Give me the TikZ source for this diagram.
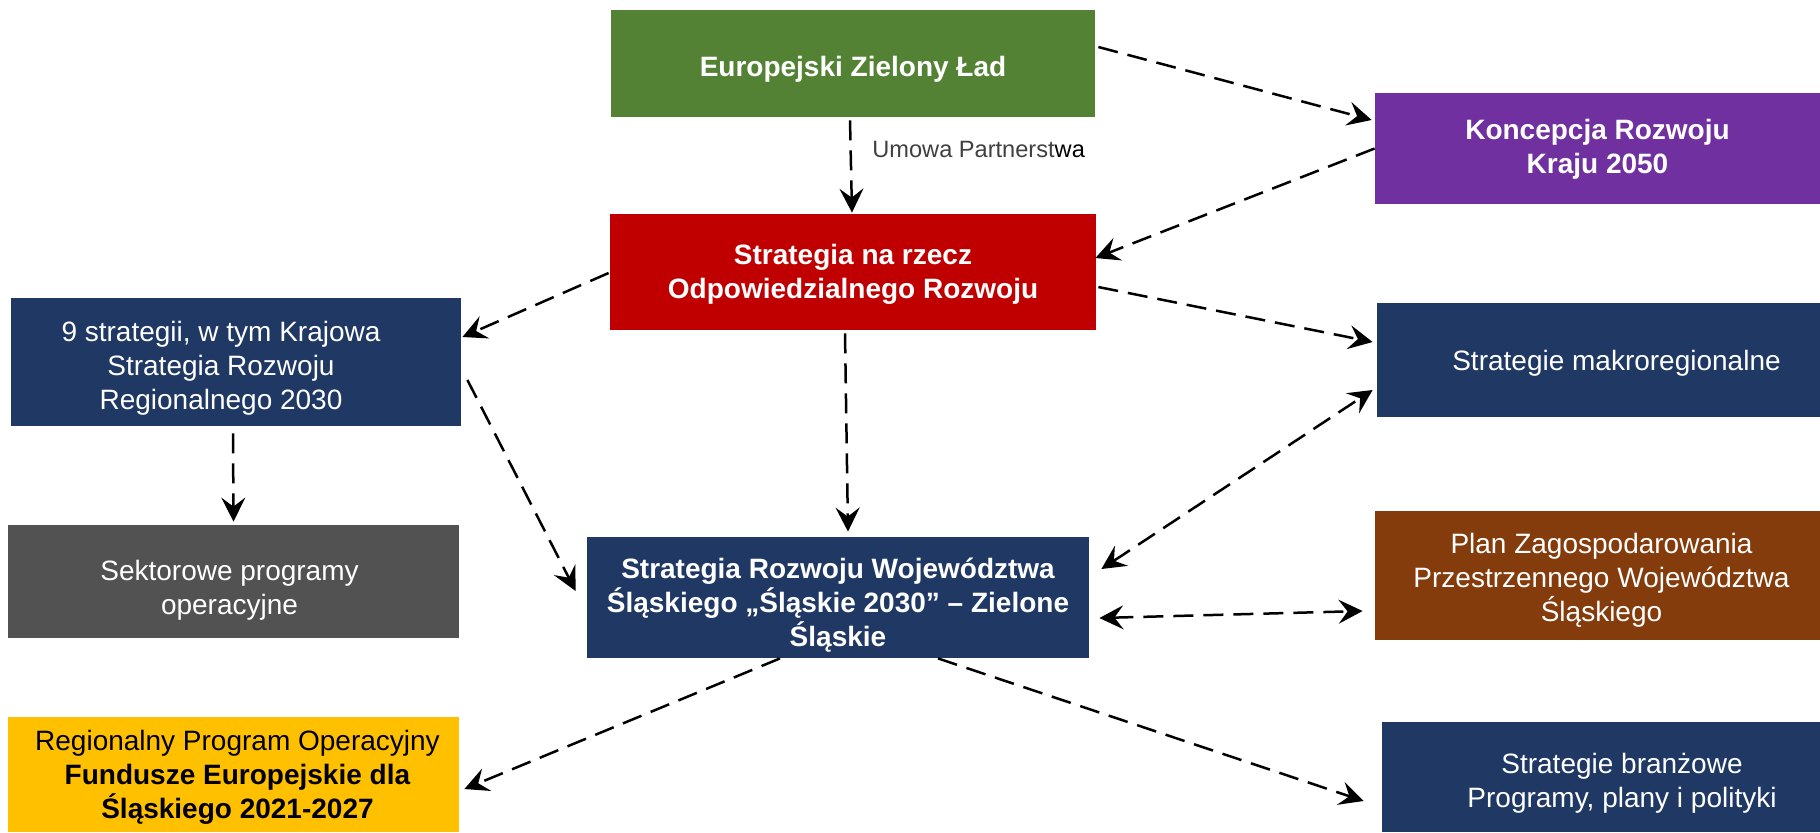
\documentclass[tikz,border=0pt]{standalone}
\usepackage{fontspec}
\setmainfont{Liberation Sans}
\usetikzlibrary{arrows.meta,calc}
\definecolor{zgreen}{HTML}{548235}
\definecolor{zred}{HTML}{C00000}
\definecolor{zpurple}{HTML}{7030A0}
\definecolor{znavy}{HTML}{203864}
\definecolor{zgray}{HTML}{525252}
\definecolor{zbrown}{HTML}{843C0C}
\definecolor{zyellow}{HTML}{FFC000}
\definecolor{umgray}{HTML}{404040}
\begin{document}
\begin{tikzpicture}[x=0.5pt,y=-0.5pt,
  box/.style={rectangle, draw=none, inner sep=0pt},
  txt/.style={inner sep=0pt, align=center, text=white, font=\fontsize{14}{17}\selectfont},
  btxt/.style={txt, font=\fontsize{14}{17}\selectfont\bfseries},
  tip/.tip={Stealth[length=12pt,width=12pt,inset=4.5pt]},
  conn/.style={draw=black, line width=1.25pt, dash pattern=on 10pt off 5pt, -{tip}},
  biconn/.style={draw=black, line width=1.25pt, dash pattern=on 10pt off 5pt, {tip}-{tip}}]
\useasboundingbox (0,0) rectangle (1820,832);
\fill[white] (0,0) rectangle (1820,832);

% boxes
\node[box, fill=zgreen, minimum width=242pt, minimum height=53.5pt] (ezl) at (853,63.5) {};
\node[box, fill=zred, minimum width=243pt, minimum height=58pt] (sor) at (853,272) {};
\node[box, fill=zpurple, minimum width=222.5pt, minimum height=55.5pt] (kraj) at (1597.5,148.5) {};
\node[box, fill=znavy, minimum width=221.5pt, minimum height=57pt] (makro) at (1598.5,360) {};
\node[box, fill=zbrown, minimum width=222.5pt, minimum height=64.5pt] (plan) at (1597.5,575.5) {};
\node[box, fill=znavy, minimum width=219pt, minimum height=55pt] (branz) at (1601,777) {};
\node[box, fill=znavy, minimum width=251pt, minimum height=60.5pt] (srw) at (838,597.5) {};
\node[box, fill=znavy, minimum width=225pt, minimum height=64pt] (strat) at (236,362) {};
\node[box, fill=zgray, minimum width=225.5pt, minimum height=56.5pt] (sekt) at (233.5,581.5) {};
\node[box, fill=zyellow, minimum width=225.5pt, minimum height=57.5pt] (rpo) at (233.5,774.5) {};

% texts
\node[btxt] (ezlt) at ($(ezl.center)+(0,6)$) {Europejski Zielony Ład};
\node[btxt] (sort) at ($(sor.center)+(0,2)$) {Strategia na rzecz\\Odpowiedzialnego Rozwoju};
\node[btxt] (krajt) at ($(kraj.center)+(0,1)$) {Koncepcja Rozwoju\\Kraju 2050};
\node[txt] (makrot) at ($(makro.center)+(18,3)$) {Strategie makroregionalne};
\node[txt] (plant) at ($(plan.center)+(4,5)$) {Plan Zagospodarowania\\Przestrzennego Województwa\\Śląskiego};
\node[txt] (branzt) at ($(branz.center)+(21,6)$) {Strategie branżowe\\Programy, plany i polityki};
\node[btxt] (srwt) at ($(srw.center)+(0,8)$) {Strategia Rozwoju Województwa\\Śląskiego „Śląskie 2030” – Zielone\\Śląskie};
\node[txt] (stratt) at ($(strat.center)+(-15,6)$) {9 strategii, w tym Krajowa\\Strategia Rozwoju\\Regionalnego 2030};
\node[txt] (sektt) at ($(sekt.center)+(-4,9)$) {Sektorowe programy\\operacyjne};
\node[txt, text=black] (rpot) at ($(rpo.center)+(4,3)$) {Regionalny Program Operacyjny\\\textbf{Fundusze Europejskie dla}\\\textbf{Śląskiego 2021-2027}};

\node[anchor=west, inner sep=0pt, font=\fontsize{11.8}{14}\selectfont, text=umgray] (umowa) at (872,149) {Umowa Partnerst\textcolor{black}{wa}};

% connectors
\draw[conn] ($(ezl.east)+(3,-16.5)$) -- ($(kraj.west)+(-3,-28.5)$);
\draw[conn] ($(kraj.west)+(0,0)$) -- ($(sor.east)+(-1,-14)$);
\draw[conn] ($(sor.east)+(2,15)$) -- ($(makro.west)+(-4,-18)$);
\draw[conn] ($(sor.west)+(-1,1)$) -- ($(strat.east)+(1,-25)$);
\draw[conn] ($(ezl.south)+(-3,3)$) -- ($(sor.north)+(-1,-1)$);
\draw[conn] ($(sor.south)+(-8,3)$) -- ($(srw.north)+(10,-5)$);
\draw[conn] ($(strat.south)+(-3,7)$) -- ($(sekt.north)+(0,-3)$);
\draw[conn] ($(strat.east)+(6,18)$) -- ($(srw.west)+(-11,-6.5)$);
\draw[biconn] ($(srw.east)+(12,-28.5)$) -- ($(makro.west)+(-4,30)$);
\draw[biconn] ($(srw.east)+(10,20.5)$) -- ($(plan.west)+(-12,35.5)$);
\draw[conn] ($(srw.south)+(-58,0)$) -- ($(rpo.east)+(5,14.5)$);
\draw[conn] ($(srw.south)+(100,0)$) -- ($(branz.west)+(-18,24)$);
\end{tikzpicture}
\end{document}
